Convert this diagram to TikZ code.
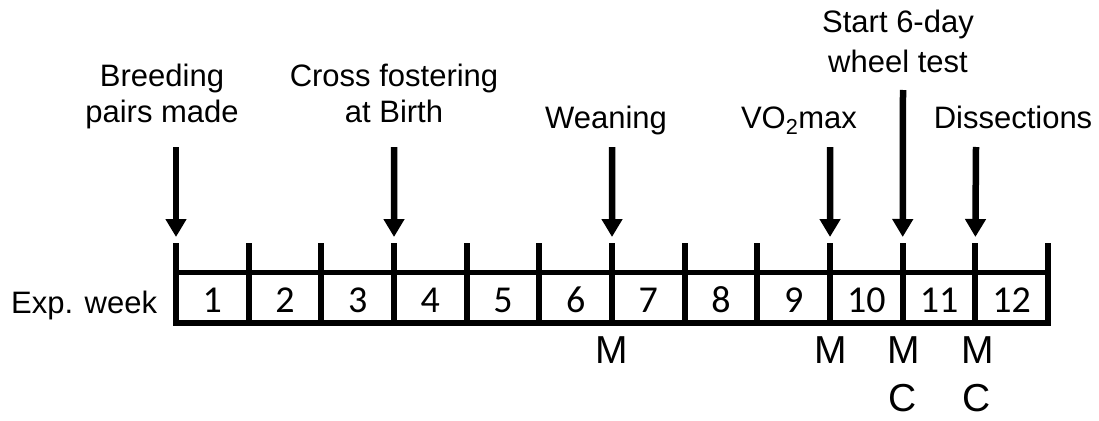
\documentclass[tikz,border=0pt]{standalone}
\usepackage{fontspec}
\setmainfont{Liberation Sans}
\newfontfamily\carlito{Carlito}
\usetikzlibrary{arrows.meta}
\begin{document}
\begin{tikzpicture}[x=1pt,y=-1pt,
  lbl/.style={font=\fontsize{31}{37}\selectfont, inner sep=0pt, anchor=base},
  num/.style={font=\carlito\fontsize{38}{40}\selectfont, inner sep=0pt, anchor=base},
  mk/.style={font=\fontsize{39}{42}\selectfont, inner sep=0pt, anchor=base},
  tick/.style={line width=6pt},
  hline/.style={line width=5pt},
  bline/.style={line width=6.5pt},
  evarrow/.style={line width=6.5pt, -{Triangle[width=20pt,length=18pt]}}
]
\useasboundingbox (0,0) rectangle (1099,420);
% tick coordinates
\foreach \i in {0,...,12} {
  \coordinate (t\i) at ({176+72.67*\i},243);
  \coordinate (b\i) at ({176+72.67*\i},323);
}
% frame
\draw[hline] (173,272) -- (1051,272);
\draw[bline] (173,323) -- (1051,323);
\foreach \i in {0,...,12} {
  \draw[tick] (t\i) -- ([yshift=-3pt]b\i);
}
% week numbers
\foreach \i in {1,...,12} {
  \node[num] (w\i) at ({176+72.67*\i-36.33},312) {\i};
}
\node[lbl, anchor=base west] (exp) at (11,313) {Exp. week};
% event labels
\node[lbl] (br1) at (162,86) {Breeding};
\node[lbl] (br2) at (162,122) {pairs made};
\node[lbl] (cf1) at (394,86) {Cross fostering};
\node[lbl] (cf2) at (394,122) {at Birth};
\node[lbl] (wn) at (606,128) {Weaning};
\node[lbl] (vo) at (799,128) {VO\textsubscript{2}max};
\node[lbl] (st1) at (898,33) {Start 6-day};
\node[lbl] (st2) at (898,72) {wheel test};
\node[lbl] (ds) at (1013,128) {Dissections};
% arrow start coordinates
\coordinate (a0) at (176,147);
\coordinate (a3) at (394,147);
\coordinate (a6) at (612,147);
\coordinate (a9) at (830,147);
\coordinate (a10) at (903,90);
\coordinate (a11) at (976,147);
\foreach \i in {0,3,6,9,10,11} {
  \draw[evarrow] (a\i) -- ([yshift=6pt]t\i);
}
% measurement markers
\node[mk] (m6) at (612,363) {M};
\node[mk] (m9) at (831,363) {M};
\node[mk] (m10) at (904,363) {M};
\node[mk] (m11) at (978,363) {M};
\node[mk] (c10) at (903,411) {C};
\node[mk] (c11) at (977,411) {C};
\end{tikzpicture}
\end{document}
